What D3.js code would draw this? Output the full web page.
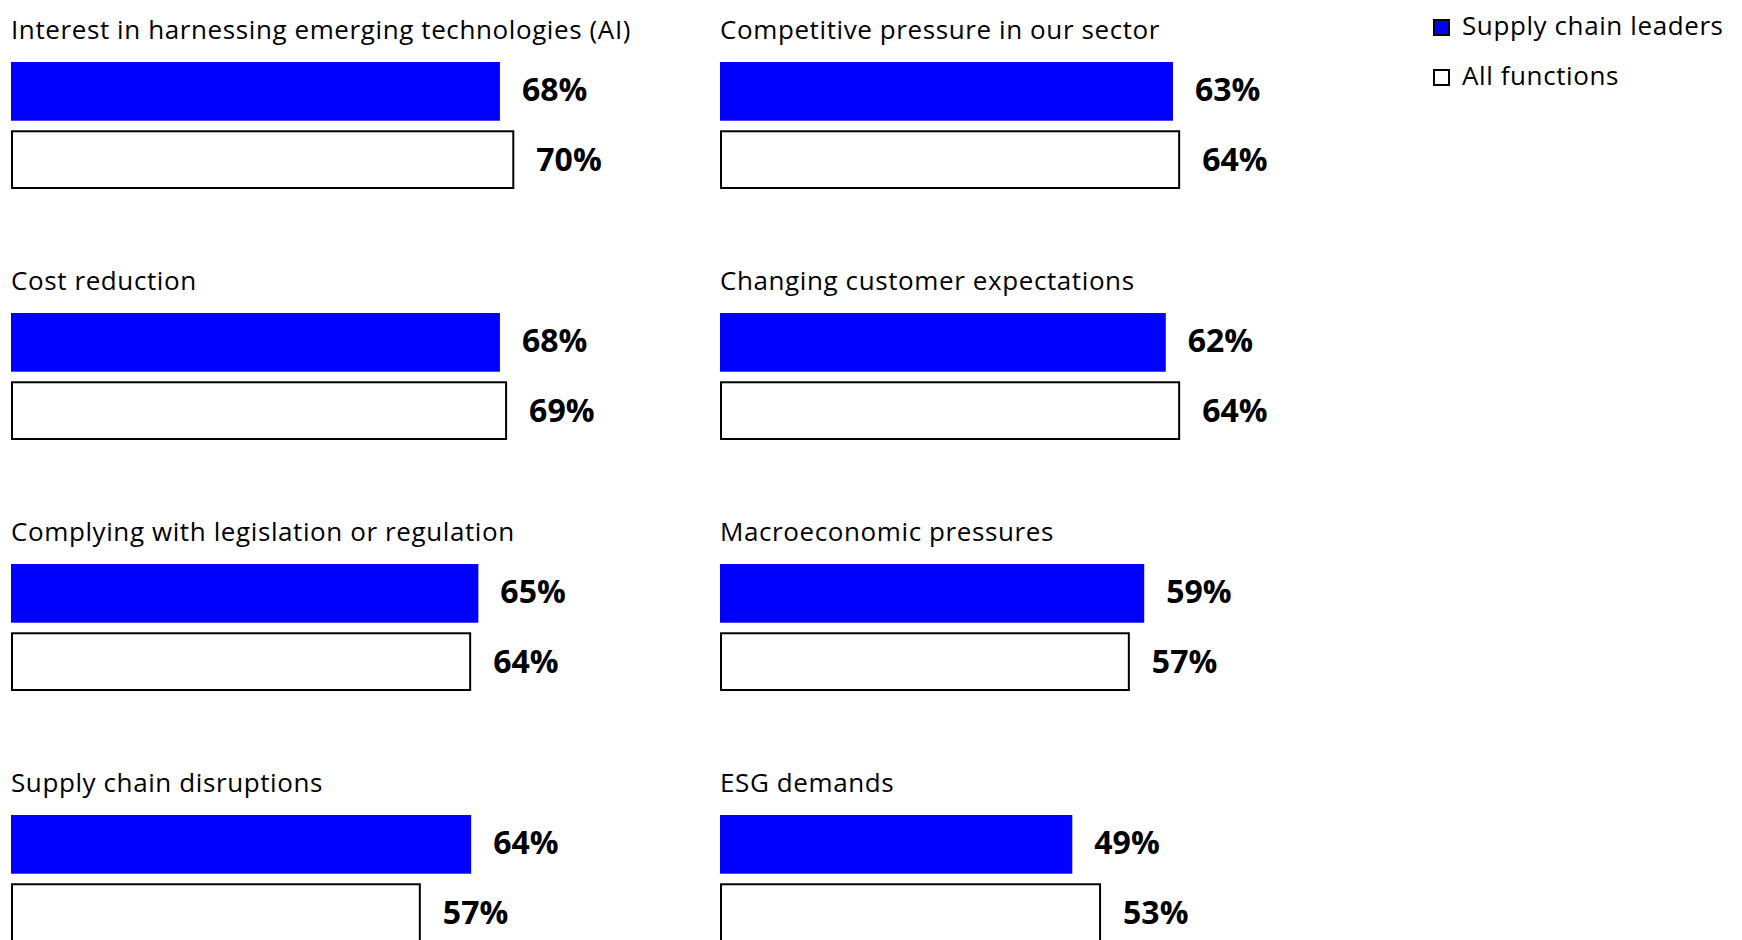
<!DOCTYPE html>
<html>
<head>
<meta charset="utf-8">
<script src="https://cdn.jsdelivr.net/npm/d3@7"></script>
<style>
  html, body { margin: 0; padding: 0; background: #fff; }
  svg { display: block; }
</style>
</head>
<body>
<svg id="chart" width="1742" height="940"></svg>
<script>
// ---- data (column-major order: left column top→bottom, then right column) ----
const categories = [
  "Interest in harnessing emerging technologies (AI)",
  "Cost reduction",
  "Complying with legislation or regulation",
  "Supply chain disruptions",
  "Competitive pressure in our sector",
  "Changing customer expectations",
  "Macroeconomic pressures",
  "ESG demands"
];
const supplyChainLeaders = [68, 68, 65, 64, 63, 62, 59, 49];
const allFunctions       = [70, 69, 64, 57, 64, 64, 57, 53];
const seriesNames = ["Supply chain leaders", "All functions"];

const svg = d3.select("#chart");
const FONT = "'Open Sans', 'Noto Sans', sans-serif";
const BLUE = "#0000ff";

const nRows = 4;
const colX = d3.scaleBand().domain([0, 1]).range([11, 11 + 2 * 709]);
const rowY = d3.scaleBand().domain(d3.range(nRows)).range([62, 62 + nRows * 251]);
const x = d3.scaleLinear().domain([0, 100]).range([0, 719]);
const series = d3.scaleBand().domain(seriesNames).range([0, 127]).paddingInner(0.14);

const panels = svg.selectAll("g.panel")
  .data(categories.map((c, i) => ({ c, i, lead: supplyChainLeaders[i], all: allFunctions[i] })))
  .join("g")
  .attr("class", "panel")
  .attr("transform", d => `translate(${colX(Math.floor(d.i / nRows))},${rowY(d.i % nRows)})`);

panels.append("text")
  .attr("x", 0).attr("y", -23)
  .attr("font-family", FONT).attr("font-size", 26).attr("letter-spacing", 0.6).attr("fill", "#000")
  .text(d => d.c);

// leaders bar
panels.append("rect")
  .attr("x", 0).attr("y", series(seriesNames[0]))
  .attr("width", d => x(d.lead)).attr("height", series.bandwidth())
  .attr("fill", BLUE);

panels.append("text")
  .attr("x", d => x(d.lead) + 22)
  .attr("y", series(seriesNames[0]) + series.bandwidth() / 2 - 2)
  .attr("dy", "0.35em")
  .attr("font-family", FONT).attr("font-weight", 700).attr("font-size", 32).attr("fill", "#000")
  .text(d => d.lead + "%");

// all functions bar
panels.append("rect")
  .attr("x", 1).attr("y", series(seriesNames[1]) + 1)
  .attr("width", d => x(d.all) - 2).attr("height", series.bandwidth() - 2)
  .attr("fill", "#fff").attr("stroke", "#000").attr("stroke-width", 2);

panels.append("text")
  .attr("x", d => x(d.all) + 22)
  .attr("y", series(seriesNames[1]) + series.bandwidth() / 2)
  .attr("dy", "0.35em")
  .attr("font-family", FONT).attr("font-weight", 700).attr("font-size", 32).attr("fill", "#000")
  .text(d => d.all + "%");

// legend
const legend = svg.append("g").attr("transform", "translate(1433,19)");
const li = legend.selectAll("g").data(seriesNames).join("g")
  .attr("transform", (d, i) => `translate(0,${i * 50})`);
li.append("rect")
  .attr("x", 1).attr("y", 1).attr("width", 15).attr("height", 15)
  .attr("fill", (d, i) => i === 0 ? BLUE : "#fff")
  .attr("stroke", "#000").attr("stroke-width", 2);
li.append("text")
  .attr("x", 29).attr("y", 7).attr("dy", "0.35em")
  .attr("font-family", FONT).attr("font-size", 26).attr("letter-spacing", 0.6).attr("fill", "#000")
  .text(d => d);
</script>
</body>
</html>
